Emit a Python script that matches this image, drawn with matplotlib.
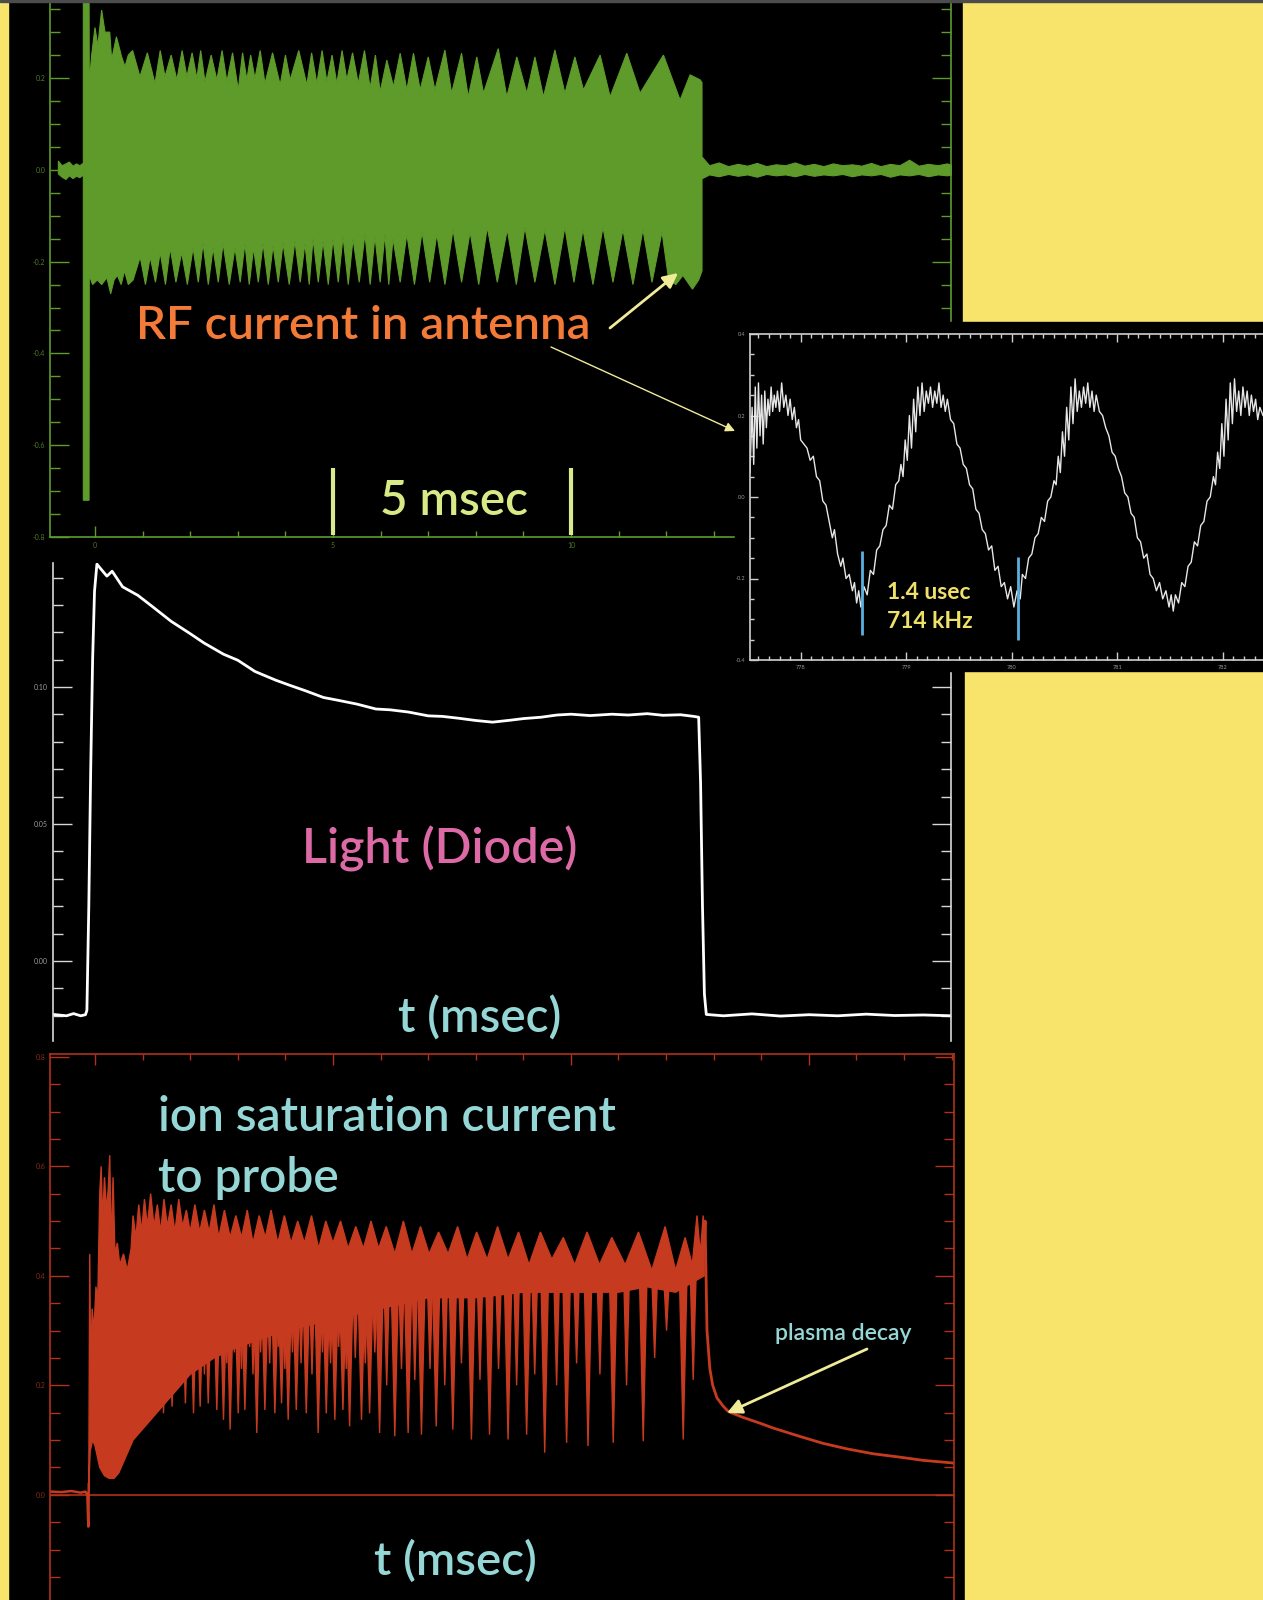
import numpy as np
import matplotlib
matplotlib.use('Agg')
import matplotlib.pyplot as plt
from matplotlib.patches import Rectangle, FancyArrowPatch
from matplotlib.ticker import MultipleLocator, FormatStrFormatter

plt.rcParams['font.family'] = ['Lato', 'DejaVu Sans']

W, H = 1263, 1600

# ---------------- data ----------------
# RF current in antenna: upper / lower edge of the green burst (t in msec)
rf_up_t = [-0.245, -0.125, -0.12, -0.07, 0.0, 0.06, 0.14, 0.21, 0.31, 0.35,
           0.45, 0.56, 0.63, 0.70, 0.79, 0.945, 1.10, 1.26, 1.37, 1.47,
           1.60, 1.72, 1.83, 1.93, 2.04, 2.14, 2.22, 2.31, 2.44, 2.56,
           2.67, 2.77, 2.89, 3.01, 3.10, 3.19, 3.27, 3.36, 3.47, 3.57,
           3.73, 3.89, 4.00, 4.10, 4.28, 4.45, 4.55, 4.66, 4.77, 4.87,
           4.98, 5.08, 5.19, 5.29, 5.41, 5.53, 5.66, 5.78, 5.89, 5.99,
           6.13, 6.27, 6.41, 6.55, 6.69, 6.83, 7.00, 7.14, 7.35, 7.49,
           7.70, 7.84, 8.02, 8.16, 8.47, 8.65, 8.86, 9.07, 9.24, 9.42,
           9.66, 9.87, 10.08, 10.26, 10.61, 10.82, 11.17, 11.45, 11.94, 12.29,
           12.50, 12.71, 12.75]
rf_up_v = [0.40, 0.40, 0.19, 0.25, 0.31, 0.27, 0.348, 0.30, 0.30, 0.24,
           0.29, 0.246, 0.225, 0.25, 0.26, 0.203, 0.255, 0.188, 0.26, 0.203,
           0.25, 0.196, 0.26, 0.203, 0.255, 0.199, 0.26, 0.192, 0.25, 0.196,
           0.26, 0.192, 0.255, 0.174, 0.255, 0.196, 0.25, 0.199, 0.26, 0.188,
           0.255, 0.185, 0.25, 0.196, 0.26, 0.185, 0.255, 0.188, 0.26, 0.192,
           0.25, 0.188, 0.26, 0.196, 0.255, 0.188, 0.26, 0.178, 0.25, 0.17,
           0.239, 0.181, 0.254, 0.174, 0.254, 0.174, 0.246, 0.174, 0.261, 0.167,
           0.254, 0.159, 0.246, 0.167, 0.264, 0.159, 0.246, 0.167, 0.246, 0.159,
           0.261, 0.167, 0.246, 0.174, 0.25, 0.159, 0.254, 0.167, 0.25, 0.152,
           0.207, 0.196, 0.19]
rf_lo_t = [-0.245, -0.125, -0.12, -0.05, 0.05, 0.14, 0.25, 0.33, 0.40, 0.47,
           0.55, 0.62, 0.70, 0.80, 0.95, 1.06, 1.16, 1.27, 1.37, 1.48,
           1.58, 1.70, 1.82, 1.94, 2.06, 2.17, 2.27, 2.38, 2.48, 2.59,
           2.69, 2.82, 2.94, 3.05, 3.15, 3.24, 3.33, 3.43, 3.53, 3.64,
           3.74, 3.85, 3.95, 4.08, 4.20, 4.31, 4.41, 4.50, 4.58, 4.69,
           4.79, 4.90, 5.00, 5.11, 5.21, 5.32, 5.42, 5.55, 5.67, 5.78,
           5.88, 5.99, 6.09, 6.17, 6.26, 6.41, 6.55, 6.71, 6.87, 7.03,
           7.18, 7.35, 7.52, 7.70, 7.88, 8.06, 8.24, 8.45, 8.66, 8.85,
           9.03, 9.24, 9.45, 9.66, 9.87, 10.06, 10.25, 10.46, 10.67, 10.88,
           11.09, 11.30, 11.51, 11.70, 11.91, 12.05, 12.20, 12.35, 12.55, 12.68,
           12.75]
rf_lo_v = [-0.72, -0.72, -0.23, -0.25, -0.24, -0.25, -0.235, -0.27, -0.24, -0.23,
           -0.25, -0.22, -0.25, -0.24, -0.19, -0.25, -0.19, -0.245, -0.18, -0.25,
           -0.17, -0.245, -0.18, -0.25, -0.17, -0.245, -0.16, -0.25, -0.17, -0.245,
           -0.16, -0.25, -0.17, -0.245, -0.16, -0.25, -0.17, -0.245, -0.16, -0.25,
           -0.165, -0.245, -0.16, -0.25, -0.155, -0.245, -0.16, -0.25, -0.15, -0.245,
           -0.155, -0.25, -0.15, -0.245, -0.145, -0.25, -0.15, -0.245, -0.14, -0.25,
           -0.145, -0.245, -0.14, -0.25, -0.15, -0.245, -0.14, -0.25, -0.135, -0.245,
           -0.14, -0.25, -0.13, -0.245, -0.135, -0.25, -0.125, -0.245, -0.13, -0.25,
           -0.125, -0.245, -0.13, -0.25, -0.125, -0.245, -0.13, -0.25, -0.125, -0.245,
           -0.13, -0.25, -0.13, -0.245, -0.135, -0.24, -0.25, -0.23, -0.26, -0.24,
           -0.22]
# noise band before / after the pulse
rf_pre_t = [-0.78, -0.70, -0.62, -0.55, -0.47, -0.40, -0.33, -0.245]
rf_pre_hi = [0.020, 0.010, 0.014, 0.018, 0.009, 0.014, 0.010, 0.016]
rf_pre_lo = [-0.008, -0.015, -0.020, -0.012, -0.018, -0.013, -0.016, -0.010]
rf_post_t = [12.75, 12.9, 13.1, 13.3, 13.5, 13.7, 13.9, 14.1, 14.3, 14.5,
             14.7, 14.9, 15.1, 15.3, 15.5, 15.7, 15.9, 16.1, 16.3, 16.5,
             16.7, 16.9, 17.1, 17.3, 17.5, 17.7, 17.9, 18.0]
rf_post_hi = [0.028, 0.010, 0.016, 0.008, 0.013, 0.009, 0.015, 0.008, 0.012, 0.010,
              0.016, 0.009, 0.013, 0.008, 0.014, 0.010, 0.012, 0.009, 0.015, 0.008,
              0.013, 0.010, 0.022, 0.009, 0.013, 0.010, 0.014, 0.010]
rf_post_lo = [-0.018, -0.010, -0.014, -0.009, -0.013, -0.010, -0.015, -0.009, -0.012, -0.010,
              -0.014, -0.009, -0.013, -0.010, -0.012, -0.009, -0.014, -0.010, -0.012, -0.009,
              -0.015, -0.010, -0.012, -0.009, -0.014, -0.010, -0.012, -0.010]

# Light (Diode)
diode_t = [-0.88, -0.6, -0.45, -0.3, -0.2, -0.17, -0.13, -0.09, -0.05, -0.01,
           0.04, 0.12, 0.25, 0.36, 0.58, 0.9, 1.22, 1.6, 2.0, 2.29,
           2.7, 3.0, 3.36, 3.8, 4.1, 4.43, 4.8, 5.1, 5.5, 5.9,
           6.2, 6.58, 7.0, 7.3, 7.65, 8.0, 8.35, 8.72, 9.0, 9.37,
           9.7, 10.0, 10.4, 10.86, 11.2, 11.6, 11.93, 12.3, 12.58, 12.68,
           12.72, 12.76, 12.80, 12.84, 13.2, 13.8, 14.4, 15.0, 15.6, 16.2,
           16.8, 17.4, 18.0]
diode_v = [-0.0195, -0.020, -0.0192, -0.0200, -0.0196, -0.018, 0.02, 0.07, 0.11, 0.135,
           0.1449, 0.1432, 0.1405, 0.1423, 0.1366, 0.1335, 0.1292, 0.1240, 0.1195, 0.1161,
           0.1120, 0.1098, 0.1057, 0.1025, 0.1006, 0.0986, 0.0962, 0.0952, 0.0938, 0.0920,
           0.0917, 0.0909, 0.0895, 0.0893, 0.0886, 0.0878, 0.0872, 0.0879, 0.0885, 0.0890,
           0.0898, 0.0901, 0.0896, 0.0901, 0.0898, 0.0903, 0.0897, 0.0899, 0.0893, 0.0890,
           0.065, 0.02, -0.012, -0.0195, -0.0200, -0.0193, -0.0201, -0.0196, -0.0200, -0.0194,
           -0.0199, -0.0197, -0.0200]

# ion saturation current: dense part as a band with a spiky top, plus downward teeth
ion_pre_t = [-0.945, -0.7, -0.5, -0.3, -0.2, -0.16, -0.14, -0.13]
ion_pre_v = [0.006, 0.005, 0.007, 0.004, 0.006, 0.0, -0.058, 0.02]
ion_top_t = [-0.13, -0.11, -0.09, -0.06, -0.02, 0.02, 0.06, 0.10, 0.13, 0.16,
             0.20, 0.24, 0.28, 0.31, 0.34, 0.38, 0.42, 0.47, 0.52, 0.60,
             0.68, 0.76, 0.80, 0.86, 0.92, 0.98, 1.04, 1.10, 1.17, 1.24,
             1.31, 1.38, 1.45, 1.52, 1.60, 1.68, 1.76, 1.84, 1.92, 2.00,
             2.10, 2.20, 2.30, 2.40, 2.50, 2.60, 2.72, 2.84, 2.96, 3.08,
             3.20, 3.32, 3.45, 3.58, 3.70, 3.84, 3.98, 4.12, 4.26, 4.40,
             4.55, 4.70, 4.85, 5.00, 5.16, 5.32, 5.48, 5.64, 5.80, 5.96,
             6.12, 6.30, 6.48, 6.66, 6.84, 7.02, 7.22, 7.42, 7.62, 7.82,
             8.02, 8.24, 8.46, 8.68, 8.90, 9.12, 9.36, 9.60, 9.84, 10.08,
             10.34, 10.60, 10.86, 11.14, 11.42, 11.70, 11.98, 12.20, 12.40, 12.55,
             12.65, 12.72, 12.78, 12.80]
ion_top_v = [0.02, 0.44, 0.22, 0.34, 0.30, 0.38, 0.36, 0.55, 0.60, 0.50,
             0.58, 0.52, 0.56, 0.62, 0.45, 0.58, 0.44, 0.46, 0.42, 0.44,
             0.41, 0.45, 0.51, 0.47, 0.53, 0.48, 0.54, 0.49, 0.55, 0.49,
             0.53, 0.48, 0.54, 0.49, 0.53, 0.48, 0.54, 0.49, 0.52, 0.48,
             0.53, 0.48, 0.52, 0.48, 0.53, 0.47, 0.52, 0.47, 0.51, 0.47,
             0.52, 0.46, 0.51, 0.47, 0.52, 0.46, 0.51, 0.46, 0.50, 0.46,
             0.51, 0.45, 0.50, 0.46, 0.50, 0.45, 0.49, 0.45, 0.50, 0.45,
             0.49, 0.44, 0.50, 0.44, 0.49, 0.44, 0.48, 0.44, 0.49, 0.43,
             0.48, 0.43, 0.49, 0.43, 0.48, 0.42, 0.48, 0.43, 0.47, 0.42,
             0.48, 0.42, 0.47, 0.42, 0.48, 0.41, 0.49, 0.41, 0.47, 0.42,
             0.51, 0.44, 0.51, 0.45]
ion_bot_t = [-0.13, -0.10, -0.05, 0.0, 0.05, 0.10, 0.20, 0.30, 0.40, 0.50,
             0.60, 0.70, 0.80, 0.90, 1.00, 1.20, 1.40, 1.60, 1.80, 2.00,
             2.50, 3.00, 4.00, 5.00, 6.00, 7.00, 8.00, 9.00, 10.00, 11.00,
             11.60, 12.20, 12.80]
ion_bot_v = [0.02, 0.08, 0.10, 0.09, 0.07, 0.05, 0.035, 0.03, 0.03, 0.04,
             0.06, 0.08, 0.10, 0.11, 0.12, 0.14, 0.16, 0.18, 0.20, 0.22,
             0.25, 0.27, 0.30, 0.32, 0.34, 0.36, 0.36, 0.37, 0.37, 0.37,
             0.38, 0.37, 0.40]
ion_dn_t = [0.77, 0.96, 1.13, 1.27, 1.44, 1.62, 1.90, 2.07, 2.21, 2.38,
            2.56, 2.70, 2.84, 3.01, 3.15, 3.40, 3.57, 3.78, 3.92, 4.06,
            4.23, 4.44, 4.69, 4.86, 5.04, 5.21, 5.35, 5.60, 5.77, 5.98,
            6.30, 6.58, 6.86, 7.17, 7.52, 7.91, 8.29, 8.68, 9.07, 9.45,
            9.91, 10.36, 10.89, 11.52, 12.36]
ion_dn_v = [0.113, 0.125, 0.149, 0.155, 0.149, 0.161, 0.167, 0.149, 0.161, 0.167,
            0.155, 0.137, 0.119, 0.149, 0.155, 0.113, 0.155, 0.149, 0.167, 0.137,
            0.155, 0.149, 0.113, 0.149, 0.137, 0.155, 0.125, 0.137, 0.149, 0.113,
            0.107, 0.113, 0.110, 0.125, 0.119, 0.101, 0.110, 0.101, 0.110, 0.077,
            0.095, 0.089, 0.095, 0.098, 0.101]
ion_md_t = [0.87, 1.05, 1.20, 1.36, 1.53, 1.70, 1.78, 1.98, 2.14, 2.30,
            2.47, 2.63, 2.77, 2.93, 3.08, 3.25, 3.32, 3.48, 3.67, 3.85,
            3.99, 4.15, 4.33, 4.56, 4.78, 4.95, 5.12, 5.28, 5.47, 5.68,
            5.88, 6.13, 6.44, 6.72, 7.04, 7.35, 7.70, 8.09, 8.48, 8.86,
            9.24, 9.70, 10.12, 10.61, 11.17, 11.76, 12.01, 12.57]
ion_md_v = [0.20, 0.22, 0.24, 0.22, 0.25, 0.21, 0.26, 0.23, 0.26, 0.22,
            0.25, 0.27, 0.24, 0.26, 0.23, 0.27, 0.22, 0.26, 0.24, 0.27,
            0.23, 0.26, 0.24, 0.22, 0.26, 0.24, 0.27, 0.23, 0.25, 0.24,
            0.26, 0.20, 0.23, 0.21, 0.23, 0.20, 0.24, 0.21, 0.23, 0.20,
            0.22, 0.20, 0.24, 0.22, 0.20, 0.25, 0.30, 0.21]
# plasma decay after the RF is switched off
ion_dec_t = [12.80, 12.82, 12.86, 12.92, 12.98, 13.07, 13.2, 13.31, 13.6, 14.0,
             14.25, 14.8, 15.3, 15.8, 16.35, 16.9, 17.4, 18.05]
ion_dec_v = [0.45, 0.50, 0.30, 0.23, 0.20, 0.177, 0.162, 0.152, 0.142, 0.130,
             0.122, 0.107, 0.094, 0.084, 0.075, 0.069, 0.063, 0.058]

# inset: zoom on the RF current (t in usec)
ins_t = [777.52, 777.54, 777.555, 777.57, 777.585, 777.60, 777.615, 777.63, 777.645, 777.66,
         777.675, 777.69, 777.705, 777.72, 777.735, 777.75, 777.765, 777.78, 777.80, 777.82,
         777.84, 777.86, 777.88, 777.90, 777.92, 777.94, 777.96, 777.98, 778.00,
         778.03, 778.06, 778.09, 778.12, 778.15, 778.18, 778.21, 778.24, 778.27, 778.30,
         778.32, 778.35, 778.38, 778.40, 778.43, 778.46, 778.49, 778.51, 778.53, 778.55, 778.57,
         778.60, 778.63, 778.66, 778.69, 778.72, 778.75, 778.78, 778.81, 778.84, 778.87,
         778.90, 778.93, 778.95, 778.97, 778.99, 779.01, 779.03, 779.05, 779.07, 779.09,
         779.11, 779.13, 779.15, 779.17, 779.19, 779.21, 779.23, 779.25, 779.27, 779.29,
         779.31, 779.33, 779.35, 779.37, 779.39, 779.42, 779.45, 779.48, 779.51,
         779.54, 779.57, 779.60, 779.63, 779.66, 779.69, 779.72, 779.75, 779.78, 779.81,
         779.84, 779.87, 779.90, 779.93, 779.96, 779.99, 780.02, 780.05, 780.08,
         780.10, 780.13, 780.16, 780.19, 780.22, 780.25, 780.28, 780.31, 780.34, 780.37,
         780.40, 780.42, 780.44, 780.46, 780.48, 780.50, 780.52, 780.54, 780.56, 780.58,
         780.60, 780.62, 780.64, 780.66, 780.68, 780.70, 780.72, 780.74, 780.76, 780.78,
         780.80, 780.83, 780.86, 780.89, 780.92, 780.95, 780.98,
         781.01, 781.04, 781.07, 781.10, 781.13, 781.16, 781.19, 781.22, 781.25, 781.28,
         781.31, 781.34, 781.37, 781.40, 781.43, 781.46, 781.49, 781.51, 781.53, 781.55,
         781.58,
         781.61, 781.64, 781.67, 781.70, 781.73, 781.76, 781.79, 781.82, 781.85, 781.88,
         781.91, 781.93, 781.95, 781.97, 781.99, 782.01, 782.03, 782.05, 782.07, 782.09,
         782.11, 782.13, 782.15, 782.17, 782.19, 782.21, 782.23, 782.25, 782.27, 782.29,
         782.31, 782.33, 782.35, 782.38]
ins_v = [0.06, 0.22, 0.08, 0.27, 0.12, 0.28, 0.15, 0.25, 0.13, 0.26,
         0.17, 0.24, 0.20, 0.27, 0.21, 0.25, 0.22, 0.26, 0.21, 0.28,
         0.22, 0.25, 0.20, 0.24, 0.19, 0.22, 0.17, 0.19, 0.14,
         0.13, 0.12, 0.09, 0.10, 0.05, 0.04, -0.01, -0.02, -0.06, -0.10,
         -0.08, -0.14, -0.17, -0.15, -0.20, -0.19, -0.23, -0.21, -0.26, -0.23, -0.27,
         -0.22, -0.24, -0.18, -0.19, -0.13, -0.12, -0.08, -0.07, -0.02, -0.03,
         0.03, 0.04, 0.08, 0.05, 0.14, 0.09, 0.20, 0.12, 0.24, 0.16,
         0.27, 0.20, 0.28, 0.21, 0.26, 0.23, 0.27, 0.22, 0.26, 0.23,
         0.28, 0.22, 0.25, 0.21, 0.24, 0.19, 0.18, 0.13, 0.12,
         0.08, 0.07, 0.03, 0.02, -0.03, -0.04, -0.08, -0.09, -0.13, -0.12,
         -0.18, -0.17, -0.22, -0.21, -0.25, -0.22, -0.27, -0.23, -0.25,
         -0.19, -0.20, -0.15, -0.14, -0.10, -0.09, -0.05, -0.06, -0.01, 0.0,
         0.04, 0.03, 0.10, 0.06, 0.16, 0.10, 0.22, 0.14, 0.27, 0.18,
         0.29, 0.21, 0.26, 0.22, 0.27, 0.23, 0.28, 0.22, 0.26, 0.21,
         0.25, 0.21, 0.20, 0.17, 0.15, 0.11, 0.10,
         0.07, 0.05, 0.01, 0.0, -0.04, -0.05, -0.10, -0.11, -0.15, -0.14,
         -0.19, -0.20, -0.23, -0.21, -0.25, -0.23, -0.27, -0.24, -0.28, -0.24,
         -0.26,
         -0.21, -0.22, -0.17, -0.16, -0.11, -0.12, -0.07, -0.06, -0.01, 0.0,
         0.05, 0.03, 0.11, 0.07, 0.18, 0.10, 0.24, 0.14, 0.28, 0.18,
         0.29, 0.21, 0.26, 0.20, 0.27, 0.22, 0.26, 0.20, 0.25, 0.21,
         0.24, 0.19, 0.22, 0.20]
# blue period markers in the inset
mark_t = [778.58, 780.06]
mark_lo = [-0.339, -0.351]
mark_hi = [-0.133, -0.148]

# colours
yellow = '#f8e46a'
green = '#5e9b2b'
red = '#c63b1f'
arrow_col = '#efeb98'
cyan = '#95d7d6'


def box(x0, y0, x1, y1):
    # pixel box (top-left origin) -> figure fraction [l, b, w, h]
    return [x0 / W, 1 - y1 / H, (x1 - x0) / W, (y1 - y0) / H]


def pt(x, y):
    return (x / W, 1 - y / H)


def style(ax, col, lblcol):
    ax.set_facecolor('none')
    for s in ax.spines.values():
        s.set_color(col)
        s.set_linewidth(1.2)
    ax.tick_params(which='both', direction='in', colors=col, labelcolor=lblcol, labelsize=5)
    ax.tick_params(which='major', length=14, width=1)
    ax.tick_params(which='minor', length=7, width=1)


fig = plt.figure(figsize=(W / 100, H / 100), dpi=100, facecolor='black')

# yellow slide background around the scope shots
for x0, y0, x1, y1 in [(0, 0, 8, H), (963, 0, W, 322), (965, 671, W, H)]:
    fig.add_artist(Rectangle(pt(x0, y1), (x1 - x0) / W, (y1 - y0) / H,
                             transform=fig.transFigure, color=yellow, zorder=1))
fig.add_artist(Rectangle(pt(0, 2), 1, 2 / H, transform=fig.transFigure,
                         color='#4c4c4c', zorder=20))

# ---- top: RF current ----
ax1 = fig.add_axes(box(50, 0, 951, 537))
style(ax1, green, '#4d7a24')
ax1.set_xlim(-0.945, 17.98)
ax1.set_ylim(-0.8, 0.37)
ax1.spines['top'].set_visible(False)
ax1.tick_params(axis='y', which='both', left=True, right=True)
ax1.tick_params(axis='x', which='major', length=8)
ax1.tick_params(axis='x', which='minor', length=4)
ax1.yaxis.set_major_locator(MultipleLocator(0.2))
ax1.yaxis.set_minor_locator(MultipleLocator(0.05))
ax1.yaxis.set_major_formatter(FormatStrFormatter('%.1f'))
ax1.xaxis.set_major_locator(MultipleLocator(5))
ax1.xaxis.set_minor_locator(MultipleLocator(1))
ax1.fill(np.concatenate([rf_up_t, rf_lo_t[::-1]]),
         np.concatenate([rf_up_v, rf_lo_v[::-1]]), color=green, lw=0.8)
ax1.fill_between(rf_pre_t, rf_pre_lo, rf_pre_hi, color=green, lw=0.8)
ax1.fill_between(rf_post_t, rf_post_lo, rf_post_hi, color=green, lw=0.8)
ax1.vlines([5, 10], -0.796, -0.65, color='#d8ea8c', lw=3)

# ---- middle: light diode ----
ax2 = fig.add_axes(box(53, 563, 951, 1041))
style(ax2, '#d8d8d8', '#9c9c9c')
ax2.set_xlim(-0.882, 17.98)
ax2.set_ylim(-0.0292, 0.1453)
ax2.spines['top'].set_visible(False)
ax2.spines['bottom'].set_visible(False)
ax2.tick_params(axis='x', which='both', bottom=False, labelbottom=False)
ax2.tick_params(axis='y', which='both', left=True, right=True)
ax2.yaxis.set_major_locator(MultipleLocator(0.05))
ax2.yaxis.set_minor_locator(MultipleLocator(0.01))
ax2.yaxis.set_major_formatter(FormatStrFormatter('%.2f'))
ax2.plot(diode_t, diode_v, color='white', lw=2)

# ---- bottom: ion saturation current ----
ax3 = fig.add_axes(box(50, 1054, 954, 1600))
style(ax3, '#b0321a', '#8a2a16')
ax3.set_xlim(-0.945, 18.05)
ax3.set_ylim(-0.192, 0.805)
ax3.spines['bottom'].set_visible(False)
ax3.tick_params(axis='x', which='both', bottom=False, top=True,
                labelbottom=False, labeltop=False)
ax3.tick_params(axis='x', which='major', length=8)
ax3.tick_params(axis='x', which='minor', length=4)
ax3.tick_params(axis='y', which='both', left=True, right=True)
ax3.yaxis.set_major_locator(MultipleLocator(0.2))
ax3.yaxis.set_minor_locator(MultipleLocator(0.05))
ax3.yaxis.set_major_formatter(FormatStrFormatter('%.1f'))
ax3.xaxis.set_major_locator(MultipleLocator(5))
ax3.xaxis.set_minor_locator(MultipleLocator(1))
ax3.axhline(0, color='#b0321a', lw=1.2)
ax3.plot(ion_pre_t, ion_pre_v, color=red, lw=1.8)
ax3.fill(np.concatenate([ion_top_t, ion_bot_t[::-1]]),
         np.concatenate([ion_top_v, ion_bot_v[::-1]]), color=red, lw=1)
# downward spikes drawn as narrow V shapes hanging from the band
for tt, vv in zip(ion_dn_t, ion_dn_v):
    ax3.fill([tt - 0.08, tt + 0.08, tt], [0.40, 0.40, vv], color=red, lw=1)
for tt, vv in zip(ion_md_t, ion_md_v):
    ax3.fill([tt - 0.06, tt + 0.06, tt], [0.40, 0.40, vv], color=red, lw=1)
ax3.plot(ion_dec_t, ion_dec_v, color=red, lw=2)

# ---- inset ----
fig.add_artist(Rectangle(pt(735, 671), (W - 735) / W, (671 - 322) / H,
                         transform=fig.transFigure, color='black', zorder=5))
ax4 = fig.add_axes(box(750, 334, 1263, 660), zorder=6)
style(ax4, '#cfcfcf', '#9a9a9a')
ax4.set_facecolor('black')
ax4.spines['right'].set_visible(False)
ax4.set_xlim(777.52, 782.38)
ax4.set_ylim(-0.4, 0.4)
ax4.tick_params(which='both', labelsize=4, top=True, right=False)
ax4.tick_params(which='major', length=6)
ax4.tick_params(which='minor', length=3)
ax4.xaxis.set_major_locator(MultipleLocator(1))
ax4.xaxis.set_minor_locator(MultipleLocator(0.1))
ax4.xaxis.set_major_formatter(FormatStrFormatter('%d'))
ax4.yaxis.set_major_locator(MultipleLocator(0.2))
ax4.yaxis.set_minor_locator(MultipleLocator(0.05))
ax4.yaxis.set_major_formatter(FormatStrFormatter('%.1f'))
ax4.plot(ins_t, ins_v, color='#e6e6e6', lw=1)
ax4.vlines(mark_t, mark_lo, mark_hi, color='#5aaee0', lw=2)
ax4.text(778.82, -0.250, '1.4 usec', color='#efe06a', fontsize=16.5, fontweight='bold', va='baseline')
ax4.text(778.82, -0.321, '714 kHz', color='#efe06a', fontsize=16.5, fontweight='bold', va='baseline')

# ---- labels and arrows ----
def label(x, y, s, col, size):
    fig.text(x / W, 1 - y / H, s, color=col, fontsize=size, fontweight='semibold',
             ha='left', va='baseline', zorder=10)


label(136, 339, 'RF current in antenna', '#f47a38', 34.2)
label(380, 515, '5 msec', '#d7ea86', 34.3)
label(302, 864, 'Light (Diode)', '#dd6aa6', 34.9)
label(398, 1033, 't (msec)', cyan, 34.3)
label(158, 1131, 'ion saturation current', cyan, 34.4)
label(158, 1192, 'to probe', cyan, 34.4)
label(775, 1340, 'plasma decay', cyan, 16.6)
label(374, 1575, 't (msec)', cyan, 34.2)

for a, b, lw, ms in [((610, 328), (678, 273), 2, 22),
                     ((551, 347), (735, 431), 1, 14),
                     ((867, 1349), (727, 1413), 2, 22)]:
    fig.add_artist(FancyArrowPatch(pt(*a), pt(*b), transform=fig.transFigure,
                                   arrowstyle='-|>', mutation_scale=ms, color=arrow_col,
                                   lw=lw, shrinkA=0, shrinkB=0, zorder=10))

fig.savefig('out.png', dpi=100, facecolor='black')
